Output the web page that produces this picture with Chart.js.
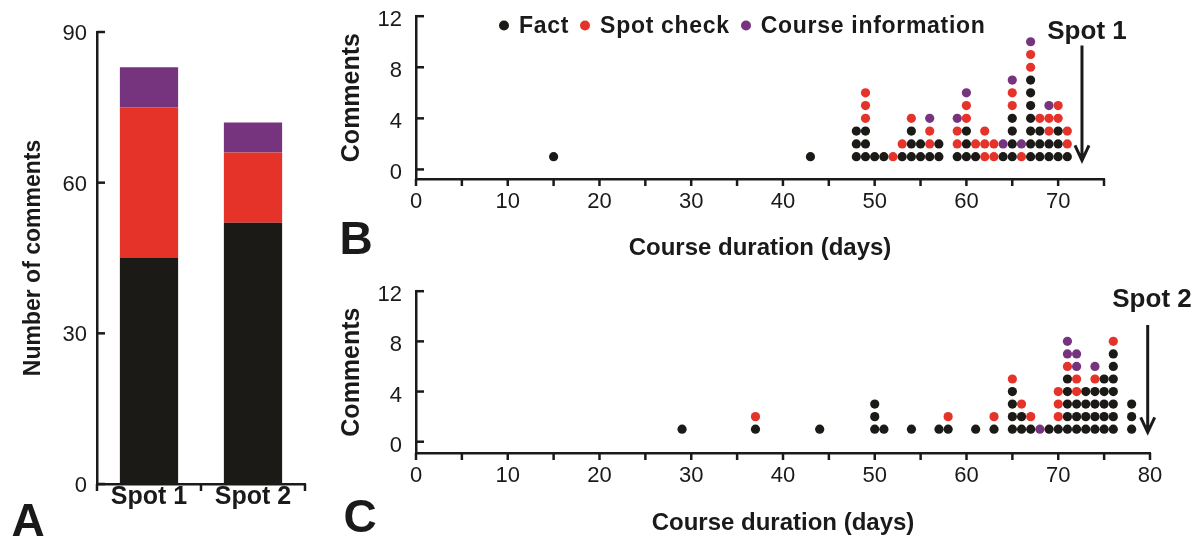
<!DOCTYPE html>
<html>
<head>
<meta charset="utf-8">
<title>Comments per spot and course day</title>
<script src="https://cdn.jsdelivr.net/npm/chart.js@4.4.0/dist/chart.umd.min.js"></script>
<style>
  body { margin: 0; background: #fff; }
  #fig { position: relative; width: 1201px; height: 543px; font-family: "Liberation Sans", Arial, sans-serif; color: #1a1a1a; overflow: hidden; }
  canvas { position: absolute; }
  #chartA { left: 0; top: 0; }
  #chartB { left: 330px; top: -11px; }
  #chartC { left: 330px; top: 264px; }
  .lbl { position: absolute; font-weight: bold; transform: translate(-50%, -50%); white-space: nowrap; line-height: 1; }
  .panel { font-size: 46px; }
  .spot { font-size: 26px; }
  #legend { position: absolute; left: 499px; top: 25px; transform: translateY(-50%); font-size: 23px; font-weight: bold; white-space: nowrap; line-height: 1; display: flex; align-items: center; letter-spacing: 0.7px; }
  #legend span { display: inline-flex; align-items: center; margin-right: 11px; }
  #legend i { display: inline-block; width: 10px; height: 10px; border-radius: 50%; margin-right: 10px; }
</style>
</head>
<body>
<div id="fig">
  <canvas id="chartA" width="330" height="543"></canvas>
  <canvas id="chartB" width="871" height="276"></canvas>
  <canvas id="chartC" width="871" height="279"></canvas>
  <div class="lbl panel" style="left:28px; top:520px;">A</div>
  <div class="lbl panel" style="left:356px; top:238px;">B</div>
  <div class="lbl panel" style="left:360px; top:516px;">C</div>
  <div class="lbl spot" style="left:1087px; top:30px;">Spot 1</div>
  <div class="lbl spot" style="left:1152px; top:298px;">Spot 2</div>
  <div id="legend"></div>
</div>
<script>
// Panel A: totals per spot
const categories = ['Spot 1', 'Spot 2'];
const seriesNames = ['Fact', 'Spot check', 'Course information'];
const factTotals = [45, 52];
const spotTotals = [30, 14];
const infoTotals = [8, 6];
const totalTicks = [0, 30, 60, 90];

// Panel B: comments per course day, spot 1
const daysB  = [15, 43, 48, 49, 50, 51, 52, 53, 54, 55, 56, 57, 59, 60, 61, 62, 63, 64, 65, 66, 67, 68, 69, 70, 71];
const factB  = [ 1,  1,  3,  3,  1,  1,  0,  1,  3,  2,  1,  2,  1,  3,  1,  0,  0,  1,  4,  0,  7,  3,  2,  3,  1];
const spotB  = [ 0,  0,  0,  3,  0,  0,  1,  1,  1,  0,  2,  0,  2,  2,  1,  3,  2,  0,  2,  1,  2,  1,  2,  2,  2];
const infoB  = [ 0,  0,  0,  0,  0,  0,  0,  0,  0,  0,  1,  0,  1,  1,  0,  0,  0,  1,  1,  1,  1,  0,  1,  0,  0];

// Panel C: comments per course day, spot 2
const daysC  = [29, 37, 44, 50, 51, 54, 57, 58, 61, 63, 65, 66, 67, 68, 69, 70, 71, 72, 73, 74, 75, 76, 78];
const factC  = [ 1,  1,  1,  3,  1,  1,  1,  1,  1,  1,  4,  2,  1,  0,  1,  1,  5,  3,  4,  4,  5,  7,  3];
const spotC  = [ 0,  1,  0,  0,  0,  0,  0,  1,  0,  1,  1,  1,  1,  0,  0,  3,  1,  2,  0,  1,  0,  1,  0];
const infoC  = [ 0,  0,  0,  0,  0,  0,  0,  0,  0,  0,  0,  0,  0,  1,  0,  0,  2,  2,  0,  1,  0,  0,  0];

const dayTicksB = [0, 10, 20, 30, 40, 50, 60, 70];
const dayTicksC = [0, 10, 20, 30, 40, 50, 60, 70, 80];
const commentTicks = [0, 4, 8, 12];

const ink = '#1a1a1a';
const colors = ['#1c1a17', '#e5332a', '#76347f'];
const fontFamily = '"Liberation Sans", Arial, sans-serif';
Chart.defaults.font.family = fontFamily;
Chart.defaults.color = ink;

// legend
const legend = document.getElementById('legend');
seriesNames.forEach((name, i) => {
    const item = document.createElement('span');
    item.innerHTML = `<i style="background:${colors[i]}"></i>${name}`;
    legend.appendChild(item);
});

// short tick marks (inward on y, outward on x) and the spot arrows
const tickMarks = {
    id: 'tickMarks',
    afterDraw(chart, args, opts) {
        const ctx = chart.ctx;
        const area = chart.chartArea;
        ctx.save();
        ctx.strokeStyle = ink;
        ctx.lineWidth = 2.5;
        (opts.items || []).forEach(item => {
            const scale = chart.scales[item.axis];
            item.values.forEach(v => {
                const p = scale.getPixelForValue(v);
                ctx.beginPath();
                if (item.axis === 'x') {
                    ctx.moveTo(p, area.bottom);
                    ctx.lineTo(p, area.bottom + item.dir * item.len);
                } else {
                    ctx.moveTo(area.left, p);
                    ctx.lineTo(area.left + item.dir * item.len, p);
                }
                ctx.stroke();
            });
        });
        if (opts.arrow) {
            const a = opts.arrow;
            const x = chart.scales.x.getPixelForValue(a.x);
            const y0 = chart.scales.y.getPixelForValue(a.from);
            const y1 = chart.scales.y.getPixelForValue(a.to);
            ctx.lineWidth = 3;
            ctx.beginPath();
            ctx.moveTo(x, y0);
            ctx.lineTo(x, y1);
            ctx.moveTo(x - 7, y1 - 15);
            ctx.lineTo(x, y1);
            ctx.lineTo(x + 7, y1 - 15);
            ctx.stroke();
        }
        ctx.restore();
    }
};

// Panel A
new Chart(document.getElementById('chartA'), {
    type: 'bar',
    data: {
        labels: categories,
        datasets: [
            { label: seriesNames[0], data: factTotals, backgroundColor: colors[0] },
            { label: seriesNames[1], data: spotTotals, backgroundColor: colors[1] },
            { label: seriesNames[2], data: infoTotals, backgroundColor: colors[2] }
        ]
    },
    options: {
        responsive: false,
        animation: false,
        layout: { padding: { top: 32, right: 25, bottom: 0, left: 0 } },
        datasets: { bar: { barPercentage: 0.56, categoryPercentage: 1 } },
        scales: {
            x: {
                stacked: true,
                grid: { display: false, drawTicks: false },
                border: { color: ink, width: 2.5 },
                ticks: { color: ink, font: { size: 25, weight: 'bold' }, padding: -2, maxRotation: 0 },
                afterFit: s => { s.height = 59; }
            },
            y: {
                stacked: true,
                min: 0,
                max: 90,
                afterBuildTicks: s => { s.ticks = totalTicks.map(v => ({ value: v })); },
                grid: { display: false, drawTicks: false },
                border: { color: ink, width: 2.5 },
                ticks: { color: ink, font: { size: 22 }, padding: 10, labelOffset: 2 },
                title: { display: true, text: 'Number of comments', color: ink, font: { size: 23, weight: 'bold' }, padding: { top: 20, bottom: 0 } },
                afterFit: s => { s.width = 97; }
            }
        },
        plugins: {
            legend: { display: false },
            tooltip: { enabled: false },
            tickMarks: {
                items: [
                    { axis: 'y', values: totalTicks, dir: 1, len: 8 },
                    { axis: 'x', values: [-0.5, 0.5, 1.5], dir: 1, len: 7 }
                ]
            }
        }
    },
    plugins: [tickMarks]
});

// stack the comments of each day on top of each other: fact, spot check, course information
function buildDots(days, facts, spots, infos) {
    const fact = [], spot = [], info = [];
    days.forEach((d, i) => {
        let level = 0;
        for (let k = 0; k < facts[i]; k++) fact.push({ x: d, y: ++level });
        for (let k = 0; k < spots[i]; k++) spot.push({ x: d, y: ++level });
        for (let k = 0; k < infos[i]; k++) info.push({ x: d, y: ++level });
    });
    return [fact, spot, info];
}

function dotChart(id, dots, cfg) {
    const minor = [];
    for (let v = 0; v <= cfg.xMax; v += 5) minor.push(v);
    return new Chart(document.getElementById(id), {
        type: 'scatter',
        data: {
            datasets: dots.map((pts, i) => ({
                label: seriesNames[i],
                data: pts,
                pointRadius: 4.6,
                pointBackgroundColor: colors[i],
                pointBorderWidth: 0
            }))
        },
        options: {
            responsive: false,
            animation: false,
            layout: { padding: { top: 0, right: cfg.right, bottom: 0, left: 0 } },
            scales: {
                x: {
                    min: 0,
                    max: cfg.xMax,
                    afterBuildTicks: s => { s.ticks = cfg.xTicks.map(v => ({ value: v })); },
                    grid: { display: false, drawTicks: false },
                    border: { color: ink, width: 2.5 },
                    ticks: { color: ink, font: { size: 22 }, padding: 10, maxRotation: 0, autoSkip: false },
                    title: { display: true, text: 'Course duration (days)', color: ink, font: { size: 24, weight: 'bold' }, padding: { top: 0, bottom: cfg.titlePad } },
                    afterFit: s => { s.height = cfg.xHeight; }
                },
                y: {
                    min: cfg.yMin,
                    max: 12,
                    afterBuildTicks: s => { s.ticks = commentTicks.map(v => ({ value: v })); },
                    grid: { display: false, drawTicks: false },
                    border: { color: ink, width: 2.5 },
                    ticks: { color: ink, font: { size: 22 }, padding: 14, labelOffset: 4 },
                    title: { display: true, text: 'Comments', color: ink, font: { size: 25, weight: 'bold' }, padding: { top: 7, bottom: 0 } },
                    afterFit: s => { s.width = 86; }
                }
            },
            plugins: {
                legend: { display: false },
                tooltip: { enabled: false },
                tickMarks: {
                    items: [
                        { axis: 'y', values: commentTicks, dir: 1, len: 8 },
                        { axis: 'x', values: minor, dir: 1, len: 7 }
                    ],
                    arrow: cfg.arrow
                }
            }
        },
        plugins: [tickMarks]
    });
}

dotChart('chartB', buildDots(daysB, factB, spotB, infoB), {
    xMax: 75, xTicks: dayTicksB, yMin: -0.75, right: 97, xHeight: 86, titlePad: 2,
    arrow: { x: 72.6, from: 9.7, to: 0.7 }
});

dotChart('chartC', buildDots(daysC, factC, spotC, infoC), {
    xMax: 80, xTicks: dayTicksC, yMin: -0.9, right: 51, xHeight: 90, titlePad: 5,
    arrow: { x: 79.75, from: 9.3, to: 0.75 }
});
</script>
</body>
</html>
